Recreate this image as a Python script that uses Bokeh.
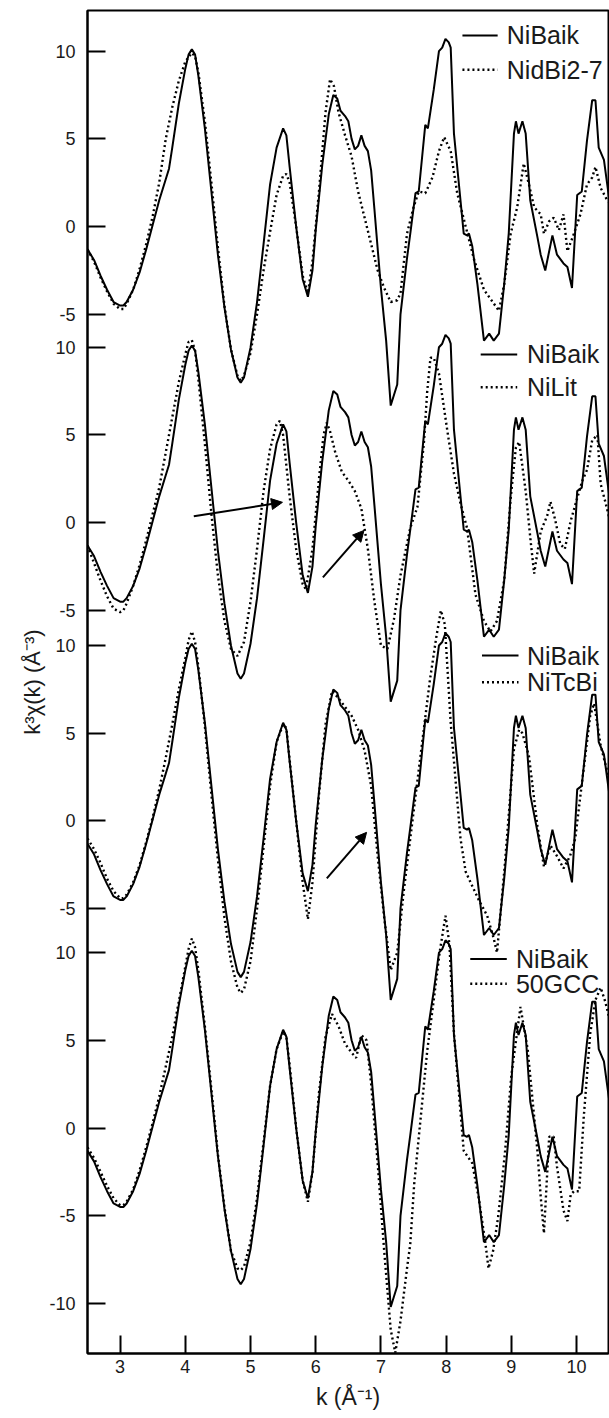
from bokeh.plotting import figure
from bokeh.models import FixedTicker, Arrow, NormalHead, Range1d, Title
from bokeh.embed import file_html
from bokeh.resources import INLINE
from bokeh.core.properties import value

# ---- k^3-weighted EXAFS spectra, k in 1/Angstrom ----
k_nibaik = [2.50, 2.60, 2.70, 2.80, 2.90, 3.00, 3.05, 3.10, 3.20, 3.30, 3.40, 3.50, 3.60, 3.70, 3.75,
            3.80, 3.90, 4.00, 4.05, 4.10, 4.15, 4.20, 4.30, 4.40, 4.50, 4.60, 4.70, 4.80, 4.85, 4.90,
            5.00, 5.10, 5.20, 5.30, 5.40, 5.50, 5.55, 5.60, 5.70, 5.80, 5.88, 5.95, 6.00, 6.10, 6.20,
            6.27, 6.33, 6.38, 6.45, 6.50, 6.55, 6.60, 6.65, 6.70, 6.75, 6.80, 6.85, 6.90, 7.00, 7.08,
            7.15, 7.25, 7.30, 7.40, 7.45, 7.53, 7.58, 7.68, 7.72, 7.81, 7.89, 7.94, 7.99, 8.04, 8.07,
            8.12, 8.22, 8.27, 8.32, 8.35, 8.40, 8.48, 8.58, 8.66, 8.73, 8.81, 8.89, 8.96, 9.04, 9.07,
            9.11, 9.17, 9.22, 9.29, 9.40, 9.45, 9.52, 9.63, 9.70, 9.80, 9.86, 9.93, 10.01, 10.08, 10.16,
            10.24, 10.29, 10.34, 10.42, 10.50]
chi_nibaik = [-1.3, -1.9, -2.8, -3.6, -4.3, -4.5, -4.5, -4.3, -3.6, -2.6, -1.3, 0.1, 1.5, 2.7, 3.3,
              4.5, 7.0, 9.0, 9.8, 10.1, 9.8, 8.6, 5.6, 2.0, -1.6, -4.6, -7.0, -8.6, -8.9, -8.6,
              -6.9, -4.3, -1.0, 2.4, 4.5, 5.6, 5.2, 3.4, 0.0, -3.0, -4.0, -2.5, -0.2, 3.5, 6.4,
              7.5, 7.3, 6.6, 6.3, 6.0, 5.0, 4.4, 4.6, 5.2, 4.6, 4.3, 3.2, 1.0, -3.5, -6.5,
              -10.2, -9.0, -5.0, -1.8, -0.4, 1.9, 2.0, 5.8, 5.6, 7.8, 10.0, 10.2, 10.7, 10.5, 10.2,
              5.3, 1.5, -0.4, -0.5, -0.4, -1.1, -3.3, -6.5, -6.1, -6.5, -6.1, -3.3, -0.4, 5.3, 6.0,
              5.3, 6.0, 5.3, 1.5, -0.6, -1.6, -2.5, -0.5, -1.6, -2.1, -2.3, -3.5, 1.8, 2.0, 4.9,
              7.2, 7.2, 4.5, 3.8, 1.6]

k_nidbi = [2.50, 2.60, 2.70, 2.80, 2.90, 3.00, 3.05, 3.10, 3.20, 3.30, 3.40, 3.50, 3.60, 3.70, 3.80,
           3.90, 4.00, 4.10, 4.15, 4.20, 4.30, 4.40, 4.50, 4.60, 4.70, 4.80, 4.85, 4.90, 5.00, 5.10,
           5.20, 5.30, 5.40, 5.50, 5.55, 5.60, 5.70, 5.80, 5.88, 5.95, 6.05, 6.15, 6.22, 6.28, 6.35,
           6.45, 6.55, 6.65, 6.75, 6.85, 6.95, 7.05, 7.15, 7.25, 7.30, 7.40, 7.50, 7.58, 7.68, 7.79,
           7.89, 7.97, 8.07, 8.17, 8.30, 8.43, 8.58, 8.81, 8.89, 8.99, 9.09, 9.19, 9.27, 9.35, 9.45,
           9.50, 9.58, 9.65, 9.73, 9.80, 9.86, 9.96, 10.06, 10.16, 10.24, 10.29, 10.37, 10.47, 10.50]
chi_nidbi = [-1.3, -2.0, -2.9, -3.7, -4.4, -4.7, -4.7, -4.4, -3.6, -2.4, -1.0, 0.6, 2.5, 5.0, 6.8,
             8.3, 9.4, 9.9, 9.7, 8.8, 6.0, 2.5, -1.2, -4.5, -7.0, -8.5, -8.8, -8.5, -7.2, -5.0,
             -2.5, -0.3, 1.8, 2.9, 3.0, 2.5, 0.0, -2.8, -3.8, -2.0, 2.0, 6.5, 8.4, 8.0, 6.5,
             5.2, 4.0, 2.0, 0.5, -1.0, -2.5, -3.5, -4.3, -4.2, -3.8, -0.4, 1.1, 2.0, 1.9, 2.8,
             4.3, 5.1, 4.3, 1.9, 0.0, -1.9, -3.6, -4.8, -3.3, -0.4, 1.1, 3.6, 2.4, 1.1, 0.7,
             -0.4, 0.3, 0.5, -0.2, 0.7, -1.4, -0.4, 0.7, 2.4, 2.8, 3.4, 2.2, 1.5, 1.4]

k_nilit = [2.50, 2.60, 2.70, 2.80, 2.90, 3.00, 3.05, 3.10, 3.20, 3.30, 3.40, 3.50, 3.60, 3.70, 3.80,
           3.90, 4.00, 4.05, 4.10, 4.15, 4.20, 4.30, 4.40, 4.50, 4.60, 4.70, 4.80, 4.90, 5.00, 5.10,
           5.20, 5.30, 5.40, 5.45, 5.50, 5.60, 5.70, 5.80, 5.85, 5.95, 6.05, 6.12, 6.17, 6.22, 6.30,
           6.40, 6.50, 6.60, 6.70, 6.80, 6.90, 7.00, 7.10, 7.20, 7.30, 7.40, 7.45, 7.56, 7.66, 7.71,
           7.76, 7.81, 7.89, 8.02, 8.12, 8.22, 8.32, 8.45, 8.58, 8.68, 8.78, 8.89, 8.99, 9.07, 9.12,
           9.22, 9.30, 9.35, 9.45, 9.55, 9.60, 9.67, 9.75, 9.82, 9.91, 10.01, 10.09, 10.16, 10.24, 10.32,
           10.37, 10.44, 10.50]
chi_nilit = [-1.3, -2.3, -3.3, -4.2, -4.9, -5.1, -5.0, -4.6, -3.6, -2.4, -1.0, 0.5, 2.0, 4.0, 6.0,
             8.0, 9.6, 10.3, 10.4, 9.8, 8.2, 4.5, 0.5, -3.0, -5.6, -7.2, -7.6, -6.8, -4.5, -1.5,
             1.8, 4.2, 5.6, 5.8, 5.0, 1.5, -1.5, -3.5, -3.8, -1.5, 2.5, 5.0, 5.7, 5.2, 4.0,
             2.9, 2.4, 1.8, 0.8, -1.5, -4.5, -7.0, -7.2, -5.5, -3.0, -1.2, -0.3, 0.9, 4.6, 7.5,
             9.4, 9.4, 8.5, 5.2, 2.8, 1.1, -0.3, -4.1, -5.6, -6.2, -5.6, -3.3, 1.4, 4.3, 4.6,
             1.8, -1.2, -2.9, -0.5, 0.4, 1.2, 0.2, -1.2, -1.5, 0.1, 1.4, 2.4, 3.0, 4.7, 5.0,
             2.2, 1.2, 0.3]

k_nitcbi = [2.50, 2.60, 2.70, 2.80, 2.90, 3.00, 3.05, 3.10, 3.20, 3.30, 3.40, 3.50, 3.60, 3.70, 3.80,
            3.90, 4.00, 4.05, 4.10, 4.15, 4.20, 4.30, 4.40, 4.50, 4.60, 4.70, 4.80, 4.85, 4.90, 5.00,
            5.10, 5.20, 5.30, 5.40, 5.50, 5.55, 5.60, 5.70, 5.80, 5.88, 5.95, 6.05, 6.15, 6.25, 6.35,
            6.45, 6.55, 6.65, 6.75, 6.85, 6.95, 7.05, 7.15, 7.25, 7.35, 7.45, 7.55, 7.65, 7.75, 7.85,
            7.92, 7.98, 8.07, 8.22, 8.30, 8.40, 8.50, 8.63, 8.73, 8.78, 8.90, 9.04, 9.12, 9.17, 9.27,
            9.40, 9.50, 9.60, 9.70, 9.80, 9.90, 9.98, 10.09, 10.21, 10.27, 10.37, 10.50]
chi_nitcbi = [-1.0, -1.6, -2.4, -3.3, -4.0, -4.4, -4.4, -4.2, -3.5, -2.5, -1.2, 0.2, 1.8, 3.6, 5.5,
              7.5, 9.3, 10.3, 10.8, 10.2, 8.8, 5.4, 1.5, -2.2, -5.5, -8.0, -9.5, -9.8, -9.6, -8.0,
              -5.0, -1.5, 2.0, 4.5, 5.5, 5.3, 3.5, 0.0, -3.5, -5.6, -3.5, 1.5, 5.5, 7.4, 7.0,
              6.5, 6.0, 5.2, 4.0, 2.0, -2.0, -5.5, -8.5, -7.5, -4.0, -1.0, 2.0, 5.0, 8.0, 10.5,
              12.0, 11.2, 5.6, -1.0, -2.9, -3.7, -4.5, -5.4, -6.7, -7.5, -2.5, 4.1, 5.2, 5.0, 3.7,
              -0.3, -2.6, -1.4, -2.0, -2.7, -2.0, -1.0, 2.4, 6.0, 6.7, 4.3, 2.4]

k_50gcc = [2.50, 2.60, 2.70, 2.80, 2.90, 3.00, 3.05, 3.10, 3.20, 3.30, 3.40, 3.50, 3.60, 3.70, 3.80,
           3.90, 4.00, 4.05, 4.10, 4.15, 4.20, 4.30, 4.40, 4.50, 4.60, 4.70, 4.80, 4.85, 4.90, 5.00,
           5.10, 5.20, 5.30, 5.40, 5.50, 5.55, 5.60, 5.70, 5.80, 5.88, 5.95, 6.05, 6.15, 6.25, 6.35,
           6.45, 6.55, 6.62, 6.70, 6.78, 6.85, 6.95, 7.05, 7.15, 7.22, 7.30, 7.40, 7.45, 7.51, 7.61,
           7.71, 7.81, 7.90, 7.99, 8.05, 8.12, 8.27, 8.40, 8.50, 8.60, 8.65, 8.72, 8.80, 8.90, 9.00,
           9.14, 9.25, 9.40, 9.45, 9.50, 9.58, 9.65, 9.70, 9.80, 9.86, 9.91, 9.96, 10.04, 10.11, 10.21,
           10.29, 10.37, 10.44, 10.50]
chi_50gcc = [-1.1, -1.7, -2.5, -3.3, -4.0, -4.4, -4.4, -4.2, -3.5, -2.4, -1.1, 0.3, 1.8, 3.5, 5.2,
             7.2, 9.2, 10.2, 10.8, 10.3, 9.0, 5.8, 2.2, -1.5, -4.5, -7.0, -8.0, -8.1, -7.9, -6.5,
             -4.0, -0.8, 2.4, 4.5, 5.5, 5.2, 3.6, 0.0, -3.0, -4.2, -2.5, 2.0, 5.2, 6.5, 5.8,
             4.8, 4.3, 4.0, 5.3, 5.0, 2.5, -2.0, -7.0, -11.5, -12.8, -11.0, -8.0, -6.6, -3.2, 0.6,
             4.4, 7.3, 10.0, 12.1, 10.5, 5.4, -1.3, -2.0, -4.0, -6.5, -8.0, -7.0, -5.0, -1.5, 3.0,
             6.9, 4.5, -1.3, -3.9, -6.0, -0.5, -0.5, -2.2, -4.7, -5.3, -3.8, -3.6, -3.6, 0.6, 5.4,
             7.3, 8.0, 7.2, 6.3]

# ---- panels, top to bottom ----
panel_names = ["NidBi2-7", "NiLit", "NiTcBi", "50GCC"]
panel_offsets = [51.375, 34.5, 17.5, 0.0]
panel_ticks = [[10, 5, 0, -5], [10, 5, 0, -5], [10, 5, 0, -5], [10, 5, 0, -5, -10]]
x_ticks = [3, 4, 5, 6, 7, 8, 9, 10]

comparisons = [(k_nidbi, chi_nidbi), (k_nilit, chi_nilit), (k_nitcbi, chi_nitcbi), (k_50gcc, chi_50gcc)]

FONT = "Liberation Sans"
INK = "#1a1a1a"

p = figure(width=609, height=1418, output_backend="svg", toolbar_location=None,
           x_range=Range1d(2.5, 10.49), y_range=Range1d(-12.85, 63.69),
           min_border_left=87, min_border_right=1, min_border_top=10, min_border_bottom=65)
p.grid.visible = False
p.outline_line_color = "black"
p.outline_line_width = 2
p.background_fill_color = "white"
p.border_fill_color = "white"

# solid reference + dotted comparison in each panel
for off, (kc, cc) in zip(panel_offsets, comparisons):
    p.line(k_nibaik, [c + off for c in chi_nibaik], line_color="black", line_width=2)
    p.line(kc, [c + off for c in cc], line_color="black", line_width=2.4,
           line_dash="2 3")

# y ticks: one set of labels per panel
ytick_vals = []
overrides = {}
for off, ticks in zip(panel_offsets, panel_ticks):
    for t in ticks:
        ytick_vals.append(off + t)
        overrides[off + t] = str(t)

yax = p.yaxis[0]
yax.ticker = FixedTicker(ticks=ytick_vals)
yax.major_label_overrides = overrides

xax = p.xaxis[0]
xax.ticker = FixedTicker(ticks=x_ticks)
xax.axis_label = "k (Å⁻¹)"

for ax in (xax, yax):
    ax.major_tick_in = 18
    ax.major_tick_out = 0
    ax.minor_tick_line_color = None
    ax.axis_line_width = 2
    ax.major_tick_line_width = 2
    ax.axis_line_color = "black"
    ax.major_tick_line_color = "black"
    ax.major_label_text_font = FONT
    ax.major_label_text_font_size = "18px"
    ax.major_label_text_color = INK
    ax.axis_label_text_font = FONT
    ax.axis_label_text_font_size = "23px"
    ax.axis_label_text_font_style = "normal"
    ax.axis_label_text_color = INK
yax.major_label_standoff = 12
xax.major_label_standoff = 6
xax.axis_label_standoff = 8

# vertical axis title in the left margin
p.add_layout(Title(text="k³χ(k) (Å⁻³)", align="center", offset=-3, standoff=4,
                   text_font=FONT, text_font_size="22px", text_font_style="normal",
                   text_color=INK), "left")

# legend entries (k span of the sample line, k of the text, overall y of the two rows)
legend_line_k = [(8.25, 8.79), (8.53, 9.09), (8.55, 9.11), (8.37, 8.93)]
legend_text_k = [8.93, 9.24, 9.24, 9.07]
legend_rows = [(62.27, 60.31), (44.09, 42.22), (26.93, 25.41), (9.64, 8.22)]
for (k0, k1), kt, (ys, yd), name in zip(legend_line_k, legend_text_k, legend_rows, panel_names):
    p.line([k0, k1], [ys, ys], line_color="black", line_width=2)
    p.line([k0, k1], [yd, yd], line_color="black", line_width=2.4, line_dash="2 3")
    p.text([kt, kt], [ys, yd], text=["NiBaik", name], text_font=value(FONT),
           text_font_size="25px", text_baseline="middle", text_align="left", text_color=INK)

# arrows marking the shifted features
arrow_tail = [(4.13, 34.86), (6.11, 31.38), (6.17, 14.23)]
arrow_head = [(5.49, 35.66), (6.74, 34.06), (6.78, 16.85)]
for (x0, y0), (x1, y1) in zip(arrow_tail, arrow_head):
    p.add_layout(Arrow(end=NormalHead(size=11, fill_color="black", line_color="black"),
                       x_start=x0, y_start=y0, x_end=x1, y_end=y1,
                       line_color="black", line_width=2))

open("out.html", "w").write(file_html(p, INLINE))
